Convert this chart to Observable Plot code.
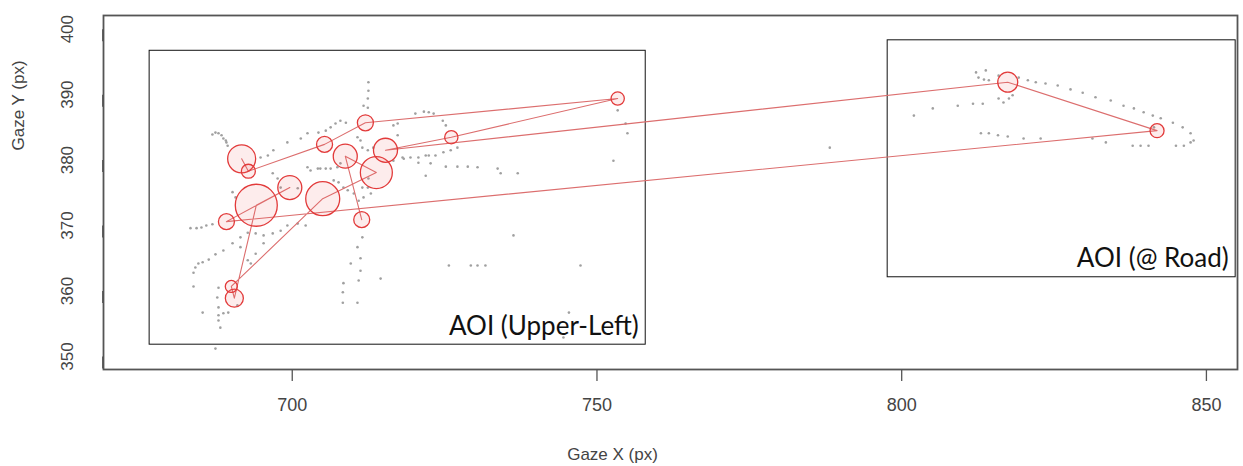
<!DOCTYPE html>
<html>
<head>
<meta charset="utf-8">
<script src="https://cdn.jsdelivr.net/npm/d3@7"></script>
<script src="https://cdn.jsdelivr.net/npm/@observablehq/plot@0.6"></script>
<style>
  html, body { margin: 0; padding: 0; background: #fff; }
  #chart svg { display: block; }
</style>
</head>
<body>
<div id="chart"></div>
<script>
// Raw gaze samples (px)
const gazeX = [686.9,687.4,687.9,688.4,688.7,689.1,689.2,689.4,
  696.0,696.9,694.8,699.2,701.4,702.5,704.3,705.5,706.3,707.1,707.9,708.8,
  712.5,712.5,712.4,712.4,711.7,710.7,711.2,711.5,712.4,713.3,712.5,712.4,712.9,711.7,711.5,
  720.2,721.6,722.4,723.2,724.7,725.2,716.6,717.3,717.3,718.3,719.4,720.7,721.9,722.4,723.5,724.8,726.0,727.1,
  720.7,722.7,725.2,727.1,728.8,730.4,733.7,734.2,737.0,721.9,753.4,754.7,755.0,752.7,716.6,718.1,
  702.5,703.0,704.2,704.6,705.5,706.3,707.4,707.9,690.2,690.7,696.8,697.6,698.1,700.9,706.8,707.6,708.4,709.1,710.1,710.9,
  683.3,684.3,685.1,685.9,686.9,683.8,684.1,684.6,685.3,686.3,687.4,688.7,690.2,691.5,692.7,694.0,695.3,696.8,698.1,699.2,700.9,702.2,
  683.8,685.3,687.9,687.7,687.9,687.9,687.9,688.2,687.4,688.7,689.5,691.0,
  710.7,711.2,709.6,711.2,708.4,710.9,708.3,708.3,710.7,711.5,714.5,693.2,692.7,694.0,691.5,695.3,
  725.7,729.3,730.4,731.7,747.3,736.3,745.4,744.5,
  812.2,813.8,812.6,813.5,814.3,815.9,819.2,820.7,822.0,823.6,825.6,827.7,829.7,831.8,834.3,836.4,838.1,839.7,841.2,842.5,844.5,846.1,847.4,847.9,847.4,846.3,845.0,
  840.5,839.2,837.9,833.5,831.3,822.8,820.0,817.4,815.8,814.3,813.0,815.9,816.7,817.6,818.2,802.0,805.1,809.2,811.7,813.3,841.4,788.2];
const gazeY = [383.9,384.2,384.1,383.8,383.3,383.0,382.7,382.2,
  380.7,381.5,380.4,382.7,383.3,384.1,384.2,384.5,385.0,385.6,386.0,385.7,
  391.9,390.6,389.4,388.0,388.3,383.5,383.0,381.9,381.5,381.9,377.2,375.8,374.9,374.3,375.8,
  387.1,387.4,387.3,387.1,386.0,385.3,385.3,385.6,383.8,380.2,380.4,380.4,380.7,380.7,380.7,381.2,381.5,381.9,
  379.6,379.5,379.0,379.0,379.0,378.9,378.7,378.0,378.0,377.6,387.6,385.6,384.1,379.9,379.9,380.4,
  378.9,378.4,378.7,378.7,378.7,378.7,378.9,379.5,375.1,374.3,378.0,377.2,375.8,375.7,376.9,376.6,375.8,375.4,374.9,373.8,
  369.6,369.6,369.7,370.0,370.2,362.8,363.6,364.2,364.4,364.8,365.6,366.2,367.3,368.2,368.9,368.8,368.5,368.8,369.2,370.0,370.3,370.0,
  360.7,356.7,360.5,359.0,357.5,356.3,355.5,354.4,351.2,356.6,356.7,357.8,
  366.7,365.0,364.2,363.1,361.2,361.6,359.8,358.2,358.2,368.2,361.9,364.2,364.7,365.7,366.7,367.3,
  363.9,363.9,363.9,363.9,363.9,368.5,356.7,352.9,
  393.4,393.7,392.6,392.3,392.2,392.9,392.6,392.2,391.9,391.7,391.4,390.8,390.3,389.6,389.1,388.3,387.9,387.3,386.8,386.4,385.7,385.0,384.1,383.0,382.7,382.2,382.2,
  382.2,382.2,382.2,382.7,383.3,383.3,383.3,383.6,383.8,384.1,384.1,389.4,388.8,389.4,389.9,386.8,387.9,388.3,388.6,388.6,385.0,381.9];

// Fixations in temporal order: centre (px) and duration (ms)
const fixX = [691.7,692.8,705.3,712.0,753.4,726.1,715.3,817.4,841.9,689.2,699.6,694.1,690.5,690.0,705.0,713.8,708.7,711.4];
const fixY = [380.2,378.3,382.4,385.7,389.4,383.5,381.5,391.9,384.5,370.6,375.8,373.1,358.9,360.7,374.1,378.1,380.6,370.9];
const fixDur = [444,111,145,145,100,100,327,227,111,145,327,1000,184,82,655,580,327,145];

// Areas of interest
const aoiNames = ["AOI (Upper-Left)", "AOI (@ Road)"];
const aoiX1 = [676.6, 797.7];
const aoiX2 = [758.0, 854.8];
const aoiY1 = [351.8, 362.1];
const aoiY2 = [396.7, 398.3];

const xTicks = [700, 750, 800, 850];
const yTicks = [350, 360, 370, 380, 390, 400];

const gaze = gazeX.map((x, i) => ({x, y: gazeY[i]}));
const fix = fixX.map((x, i) => ({x, y: fixY[i], d: fixDur[i], i}));
const aoi = aoiNames.map((name, i) => ({name, x1: aoiX1[i], x2: aoiX2[i], y1: aoiY1[i], y2: aoiY2[i]}));

const regular = "'Liberation Sans', Arial, sans-serif";
const narrow = "'Liberation Sans Narrow', 'Liberation Sans', Arial, sans-serif";

const chart = Plot.plot({
  width: 1243,
  height: 466,
  marginLeft: 103,
  marginRight: 6,
  marginTop: 15,
  marginBottom: 97,
  x: {domain: [669.03, 855.1]},
  y: {domain: [348.01, 402.09]},
  r: {type: "sqrt", domain: [0, 1000], range: [0, 21]},
  style: {background: "#fff"},
  marks: [
    Plot.rect(aoi, {x1: "x1", x2: "x2", y1: "y1", y2: "y2", fill: "none", stroke: "#111", strokeWidth: 1}),
    Plot.dot(gaze, {x: "x", y: "y", r: 1.3, fill: "#a0a0a0", stroke: "none"}),
    Plot.line(fix, {x: "x", y: "y", stroke: "#dc6e6e", strokeWidth: 1.1, curve: "linear"}),
    Plot.dot(fix, {x: "x", y: "y", r: "d", fill: "#f06060", fillOpacity: 0.12, stroke: "#e23a3a", strokeWidth: 1.3}),
    Plot.text(aoi, {x: "x2", y: "y1", text: "name", textAnchor: "end", lineAnchor: "bottom", dx: -7, dy: -10,
      fontSize: 26, fontFamily: "Lato, 'Open Sans', sans-serif", fill: "#111"}),
    Plot.frame({stroke: "#555", strokeWidth: 1.8}),
    Plot.axisX({ticks: xTicks, tickSize: 12, tickPadding: 17, fontSize: 18, fontFamily: narrow, color: "#444", stroke: "#555", strokeWidth: 1.3, label: null}),
    Plot.axisY({ticks: yTicks, tickSize: 12, tickPadding: 19, rotate: -90, textAnchor: "middle", lineAnchor: "bottom",
      fontSize: 17, fontFamily: regular, color: "#444", stroke: "#555", strokeWidth: 1.8, label: null}),
    Plot.text(["Gaze X (px)"], {frameAnchor: "bottom", dx: -58, dy: 90, fontSize: 17, fontFamily: narrow, fill: "#444"}),
    Plot.text(["Gaze Y (px)"], {frameAnchor: "left", dx: -85, dy: -42, rotate: -90, fontSize: 17, fontFamily: regular, fill: "#444"})
  ]
});
document.getElementById("chart").appendChild(chart);
</script>
</body>
</html>
